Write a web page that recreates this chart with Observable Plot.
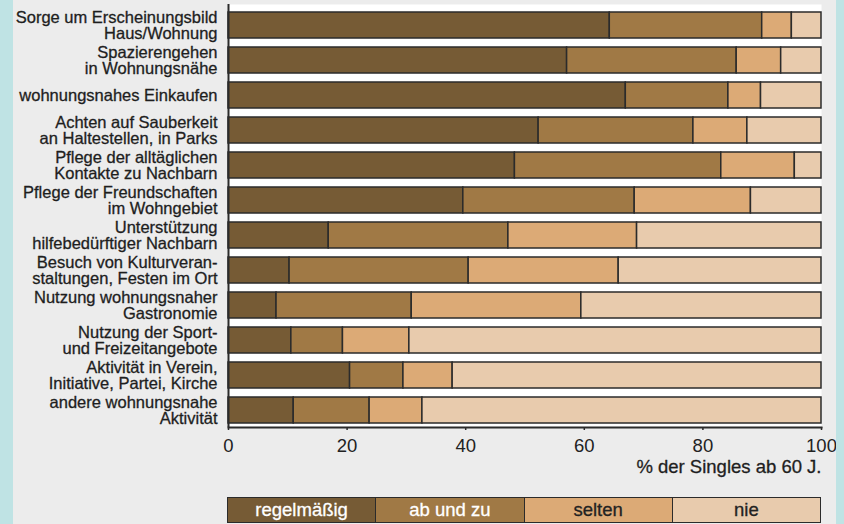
<!DOCTYPE html>
<html><head><meta charset="utf-8">
<script src="https://cdn.jsdelivr.net/npm/d3@7"></script>
<script src="https://cdn.jsdelivr.net/npm/@observablehq/plot@0.6"></script>
<style>
html,body{margin:0;padding:0;background:#bfe3e4;width:844px;height:524px;overflow:hidden;}
#panel{position:absolute;left:13px;top:0;width:823px;height:524px;background:#ececec;font-family:"Liberation Sans",Arial,sans-serif;color:#222;}
#chart{position:absolute;left:0;top:0;}
#legend{position:absolute;left:214px;top:497px;width:594px;height:26px;display:flex;box-sizing:border-box;border:1.5px solid #2b2b2b;}
#legend div{flex:1;display:flex;align-items:center;justify-content:center;font-size:18.5px;box-sizing:border-box;-webkit-text-stroke:0.3px currentColor;}
#legend div + div{border-left:1.5px solid #2b2b2b;}
</style></head>
<body>
<div id="panel"><div id="chart"></div><div id="legend"></div></div>
<script>
const categories = [
  "Sorge um Erscheinungsbild\nHaus/Wohnung",
  "Spazierengehen\nin Wohnungsnähe",
  "wohnungsnahes Einkaufen",
  "Achten auf Sauberkeit\nan Haltestellen, in Parks",
  "Pflege der alltäglichen\nKontakte zu Nachbarn",
  "Pflege der Freundschaften\nim Wohngebiet",
  "Unterstützung\nhilfebedürftiger Nachbarn",
  "Besuch von Kulturveran-\nstaltungen, Festen im Ort",
  "Nutzung wohnungsnaher\nGastronomie",
  "Nutzung der Sport-\nund Freizeitangebote",
  "Aktivität in Verein,\nInitiative, Partei, Kirche",
  "andere wohnungsnahe\nAktivität"
];
const levels = ["regelmäßig", "ab und zu", "selten", "nie"];
const regelmaessig = [64.3, 57.1, 67.0, 52.3, 48.3, 39.6, 16.9, 10.3, 8.1, 10.6, 20.5, 11.0];
const abUndZu      = [25.7, 28.6, 17.3, 26.1, 34.8, 28.9, 30.3, 30.2, 22.8, 8.7, 9.0, 12.8];
const selten       = [5.0, 7.5, 5.5, 9.1, 12.4, 19.6, 21.7, 25.3, 28.6, 11.2, 8.3, 8.9];
const nie          = [5.0, 6.8, 10.2, 12.5, 4.5, 11.9, 31.1, 34.2, 40.5, 69.5, 62.2, 67.3];
const xTicks = [0, 20, 40, 60, 80, 100];
const xLabel = "% der Singles ab 60 J.";
const colors = ["#765b35", "#a07945", "#dcaa76", "#e8cbad"];
const legendText = ["#ffffff", "#ffffff", "#222222", "#222222"];

const series = [regelmaessig, abUndZu, selten, nie];
const rows = [];
categories.forEach((c, i) => {
  levels.forEach((l, j) => rows.push({category: c, level: l, value: series[j][i]}));
});

const chart = Plot.plot({
  width: 823,
  height: 480,
  marginLeft: 215,
  marginRight: 15,
  marginTop: 4,
  marginBottom: 53,
  style: {background: "transparent", fontFamily: "Liberation Sans, Arial, sans-serif", color: "#222"},
  x: {domain: [0, 100], axis: null},
  y: {domain: categories, range: [9, 425], paddingInner: 0.267, paddingOuter: 0, axis: null},
  color: {domain: levels, range: colors},
  marks: [
    Plot.frame({fill: "white", stroke: "none"}),
    Plot.barX(rows, {x: "value", y: "category", fill: "level", stroke: "#2b2b2b", strokeWidth: 1.5}),
    Plot.ruleX([0], {stroke: "#2b2b2b", strokeWidth: 2}),
    Plot.frame({anchor: "bottom", stroke: "#2b2b2b", strokeWidth: 2}),
    Plot.axisX({ticks: xTicks, tickSize: 3, tickPadding: 8, fontSize: 18.5, label: null, stroke: "#2b2b2b", fill: "#222", strokeWidth: 1.5}),
    Plot.text(categories, {y: d => d, frameAnchor: "left", dx: -11, textAnchor: "end", fontSize: 16.5, lineHeight: 1.0, fill: "#1e1e1e", stroke: "#1e1e1e", strokeWidth: 0.3}),
    Plot.text([xLabel], {frameAnchor: "bottom-right", dy: 45, textAnchor: "end", fontSize: 18.5, fill: "#1e1e1e", stroke: "#1e1e1e", strokeWidth: 0.3})
  ]
});
document.getElementById("chart").appendChild(chart);

const legend = document.getElementById("legend");
levels.forEach((l, i) => {
  const d = document.createElement("div");
  d.textContent = l;
  d.style.background = colors[i];
  d.style.color = legendText[i];
  legend.appendChild(d);
});
</script>
</body></html>
